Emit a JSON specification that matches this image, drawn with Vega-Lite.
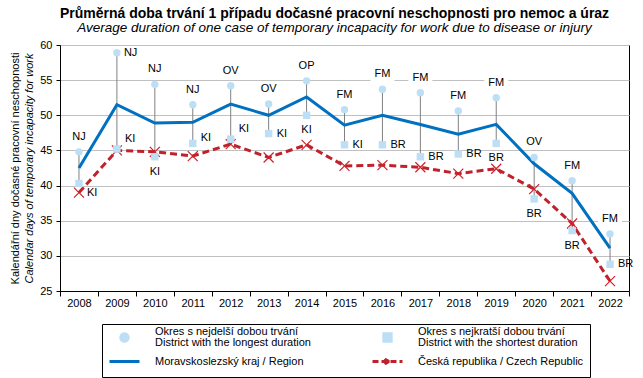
{
  "$schema": "https://vega.github.io/schema/vega-lite/v6.json",
  "width": 569,
  "height": 246,
  "autosize": {"type": "none"},
  "padding": {"left": 60, "top": 45, "right": 14, "bottom": 87},
  "background": "white",
  "title": {
    "text": "Průměrná doba trvání 1 případu dočasné pracovní neschopnosti  pro nemoc a úraz",
    "subtitle": "Average duration of one case of temporary incapacity for work due to disease or injury",
    "font": "Liberation Sans",
    "fontSize": 14,
    "fontWeight": "bold",
    "color": "#000000",
    "subtitleFont": "Liberation Sans",
    "subtitleFontSize": 13.5,
    "subtitleFontStyle": "italic",
    "subtitleColor": "#000000",
    "subtitlePadding": 0,
    "anchor": "middle",
    "dx": -10,
    "offset": 5
  },
  "config": {
    "font": "Liberation Sans",
    "view": {"stroke": "#000000", "strokeWidth": 1},
    "axis": {"labelFont": "Liberation Sans", "titleFont": "Liberation Sans"}
  },
  "data": {
    "values": [
      {"year": 2008, "longest": 44.8, "longestDistrict": "NJ", "shortest": 40.3, "shortestDistrict": "KI", "region": 42.5, "cr": 39.0},
      {"year": 2009, "longest": 58.9, "longestDistrict": "NJ", "shortest": 45.2, "shortestDistrict": "KI", "region": 51.5, "cr": 45.0},
      {"year": 2010, "longest": 54.4, "longestDistrict": "NJ", "shortest": 44.1, "shortestDistrict": "KI", "region": 48.9, "cr": 44.8},
      {"year": 2011, "longest": 51.5, "longestDistrict": "NJ", "shortest": 46.0, "shortestDistrict": "KI", "region": 49.0, "cr": 44.2},
      {"year": 2012, "longest": 54.2, "longestDistrict": "OV", "shortest": 46.6, "shortestDistrict": "KI", "region": 51.6, "cr": 45.9},
      {"year": 2013, "longest": 51.6, "longestDistrict": "OV", "shortest": 47.4, "shortestDistrict": "KI", "region": 50.0, "cr": 44.0},
      {"year": 2014, "longest": 54.9, "longestDistrict": "OP", "shortest": 50.0, "shortestDistrict": "KI", "region": 52.6, "cr": 45.8},
      {"year": 2015, "longest": 50.8, "longestDistrict": "FM", "shortest": 45.8, "shortestDistrict": "KI", "region": 48.6, "cr": 42.8},
      {"year": 2016, "longest": 53.7, "longestDistrict": "FM", "shortest": 45.8, "shortestDistrict": "BR", "region": 50.0, "cr": 42.9},
      {"year": 2017, "longest": 53.2, "longestDistrict": "FM", "shortest": 44.1, "shortestDistrict": "BR", "region": 48.7, "cr": 42.6},
      {"year": 2018, "longest": 50.6, "longestDistrict": "FM", "shortest": 44.5, "shortestDistrict": "BR", "region": 47.3, "cr": 41.7},
      {"year": 2019, "longest": 52.5, "longestDistrict": "FM", "shortest": 46.0, "shortestDistrict": "BR", "region": 48.7, "cr": 42.4},
      {"year": 2020, "longest": 44.0, "longestDistrict": "OV", "shortest": 38.1, "shortestDistrict": "BR", "region": 43.1, "cr": 39.5},
      {"year": 2021, "longest": 40.7, "longestDistrict": "FM", "shortest": 33.6, "shortestDistrict": "BR", "region": 38.9, "cr": 34.6},
      {"year": 2022, "longest": 33.1, "longestDistrict": "FM", "shortest": 28.8, "shortestDistrict": "BR", "region": 31.1, "cr": 26.4}
    ]
  },
  "encoding": {
    "x": {
      "field": "year",
      "type": "ordinal",
      "scale": {"type": "band", "paddingInner": 0, "paddingOuter": 0},
      "axis": {
        "title": null,
        "labelAngle": 0,
        "tickBand": "extent",
        "domainColor": "#000000",
        "tickColor": "#000000",
        "tickSize": 5,
        "labelFontSize": 11,
        "labelColor": "#000000",
        "labelPadding": 1,
        "grid": false
      }
    }
  },
  "layer": [
    {
      "mark": {"type": "rule", "color": "#808080", "strokeWidth": 1},
      "encoding": {
        "y": {
          "field": "longest",
          "type": "quantitative",
          "scale": {"domain": [25, 60], "nice": false, "zero": false},
          "axis": {
            "title": "Kalendářní dny dočasné pracovní neschopnosti",
            "titleFontSize": 11,
            "titleFontWeight": "normal",
            "titleColor": "#000000",
            "titlePadding": 19,
            "values": [25, 30, 35, 40, 45, 50, 55, 60],
            "grid": true,
            "gridColor": "#C0C0C0",
            "domainColor": "#000000",
            "tickColor": "#000000",
            "tickSize": 4,
            "labelFontSize": 11,
            "labelColor": "#000000",
            "labelPadding": 4
          }
        },
        "y2": {"field": "shortest"}
      }
    },
    {
      "transform": [{"filter": {"not": {"field": "year", "equal": 2009}}}],
      "mark": {"type": "point", "shape": "M-1.2,-0.7H1.2V0.7H-1.2Z", "size": 400, "filled": true, "color": "#ffffff", "opacity": 1, "strokeWidth": 0, "yOffset": -15},
      "encoding": {
        "y": {"field": "longest", "type": "quantitative", "axis": null}
      }
    },
    {
      "mark": {"type": "line", "strokeWidth": 3},
      "encoding": {
        "y": {
          "field": "region",
          "type": "quantitative",
          "axis": {
            "orient": "left",
            "title": "Calendar days of temporary incapacity for work",
            "titleFontSize": 11,
            "titleFontWeight": "normal",
            "titleFontStyle": "italic",
            "titleColor": "#000000",
            "titlePadding": 26,
            "labels": false,
            "ticks": false,
            "domain": false,
            "grid": false
          }
        },
        "color": {
          "datum": "region",
          "scale": {"domain": ["longest", "shortest", "region", "cr"], "range": ["#BDDFF5", "#BDDFF5", "#0070C0", "#C0222C"]},
          "legend": {
            "title": null,
            "orient": "none",
            "legendX": 42,
            "legendY": 279,
            "direction": "horizontal",
            "columns": 2,
            "columnPadding": 55,
            "rowPadding": 4,
            "padding": 6,
            "strokeColor": "#000000",
            "fillColor": "#ffffff",
            "labelFont": "Liberation Sans",
            "labelFontSize": 11,
            "labelColor": "#000000",
            "labelOffset": 23,
            "symbolOffset": 9,
            "labelLimit": 300,
            "symbolSize": 144,
            "labelExpr": "datum.value == 'longest' ? ['Okres s nejdelší dobou trvání', 'District with the longest duration'] : datum.value == 'shortest' ? ['Okres s nejkratší dobou trvání', 'District with the shortest duration'] : datum.value == 'region' ? 'Moravskoslezský kraj / Region' : 'Česká republika / Czech Republic'",
            "encode": {
              "labels": {"update": {
                "lineHeight": {"value": 11.5},
                "dy": {"signal": "(datum.value == 'longest' || datum.value == 'shortest') ? -6 : 0"}
              }},
              "symbols": {
                "update": {
                  "shape": {"signal": "datum.value == 'longest' ? 'circle' : datum.value == 'shortest' ? 'square' : datum.value == 'region' ? 'M-2.5,0L2.5,0' : 'M-2.5,0L2.5,0M-0.45,-0.45L0.45,0.45M-0.45,0.45L0.45,-0.45'"},
                  "size": {"signal": "(datum.value == 'longest' || datum.value == 'shortest') ? 55 : 144"},
                  "fill": {"signal": "(datum.value == 'longest' || datum.value == 'shortest') ? '#BDDFF5' : 'transparent'"},
                  "stroke": {"signal": "datum.value == 'region' ? '#0070C0' : datum.value == 'cr' ? '#C0222C' : 'transparent'"},
                  "strokeWidth": {"value": 3},
                  "strokeDash": {"signal": "datum.value == 'cr' ? [6, 3] : [1, 0]"},
                  "opacity": {"value": 1}
                }
              }
            }
          }
        }
      }
    },
    {
      "mark": {"type": "line", "strokeWidth": 3, "strokeDash": [7, 4]},
      "encoding": {
        "y": {"field": "cr", "type": "quantitative", "axis": null},
        "color": {"datum": "cr"}
      }
    },
    {
      "mark": {"type": "point", "shape": "M-1,-1L1,1M-1,1L1,-1", "size": 100, "filled": false, "stroke": "#D0202A", "strokeWidth": 1.2, "opacity": 1},
      "encoding": {
        "y": {"field": "cr", "type": "quantitative", "axis": null}
      }
    },
    {
      "mark": {"type": "point", "shape": "square", "size": 55, "filled": true, "opacity": 1},
      "encoding": {
        "y": {"field": "shortest", "type": "quantitative", "axis": null},
        "color": {"datum": "shortest"}
      }
    },
    {
      "mark": {"type": "point", "shape": "circle", "size": 55, "filled": true, "opacity": 1},
      "encoding": {
        "y": {"field": "longest", "type": "quantitative", "axis": null},
        "color": {"datum": "longest"}
      }
    },
    {
      "transform": [{"filter": {"not": {"field": "year", "equal": 2009}}}],
      "mark": {"type": "text", "fontSize": 11, "color": "#000000", "dy": -15, "align": "center", "baseline": "middle"},
      "encoding": {
        "y": {"field": "longest", "type": "quantitative", "axis": null},
        "text": {"field": "longestDistrict"}
      }
    },
    {
      "transform": [{"filter": {"field": "year", "equal": 2009}}],
      "mark": {"type": "text", "fontSize": 11, "color": "#000000", "dx": 7, "align": "left", "baseline": "middle"},
      "encoding": {
        "y": {"field": "longest", "type": "quantitative", "axis": null},
        "text": {"field": "longestDistrict"}
      }
    },
    {
      "transform": [{"filter": {"field": "year", "oneOf": [2013, 2015, 2016, 2017, 2018, 2022]}}],
      "mark": {"type": "text", "fontSize": 11, "color": "#000000", "dx": 8, "align": "left", "baseline": "middle"},
      "encoding": {
        "y": {"field": "shortest", "type": "quantitative", "axis": null},
        "text": {"field": "shortestDistrict"}
      }
    },
    {
      "transform": [{"filter": {"field": "year", "oneOf": [2009, 2012]}}],
      "mark": {"type": "text", "fontSize": 11, "color": "#000000", "dx": 8, "dy": -10, "align": "left", "baseline": "middle"},
      "encoding": {
        "y": {"field": "shortest", "type": "quantitative", "axis": null},
        "text": {"field": "shortestDistrict"}
      }
    },
    {
      "transform": [{"filter": {"field": "year", "equal": 2011}}],
      "mark": {"type": "text", "fontSize": 11, "color": "#000000", "dx": 8, "dy": -5, "align": "left", "baseline": "middle"},
      "encoding": {
        "y": {"field": "shortest", "type": "quantitative", "axis": null},
        "text": {"field": "shortestDistrict"}
      }
    },
    {
      "transform": [{"filter": {"field": "year", "equal": 2008}}],
      "mark": {"type": "text", "fontSize": 11, "color": "#000000", "dx": 8, "dy": 10, "align": "left", "baseline": "middle"},
      "encoding": {
        "y": {"field": "shortest", "type": "quantitative", "axis": null},
        "text": {"field": "shortestDistrict"}
      }
    },
    {
      "transform": [{"filter": {"field": "year", "oneOf": [2010, 2014, 2019, 2020, 2021]}}],
      "mark": {"type": "text", "fontSize": 11, "color": "#000000", "dy": 15, "align": "center", "baseline": "middle"},
      "encoding": {
        "y": {"field": "shortest", "type": "quantitative", "axis": null},
        "text": {"field": "shortestDistrict"}
      }
    }
  ],
  "resolve": {"axis": {"y": "independent"}}
}
